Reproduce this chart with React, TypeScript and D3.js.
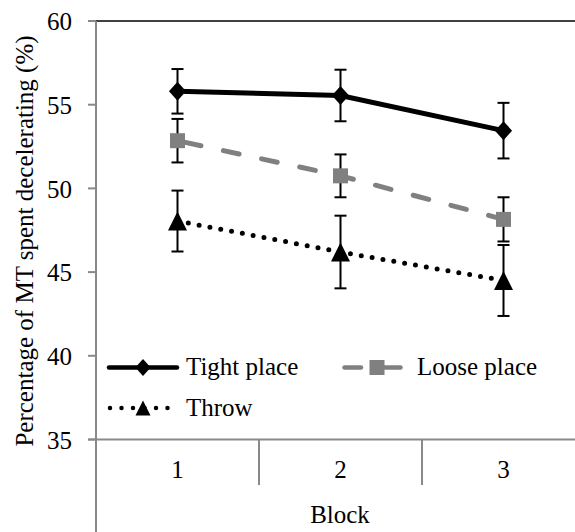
import React from "react";
import * as d3 from "d3";

const blocks = ["1", "2", "3"];
const tightPlace = [55.8, 55.55, 53.45];
const tightErr = [1.33, 1.54, 1.66];
const loosePlace = [52.85, 50.75, 48.15];
const looseErr = [1.3, 1.28, 1.32];
const throwVals = [48.05, 46.2, 44.5];
const throwErr = [1.82, 2.17, 2.12];
const yTicks = [35, 40, 45, 50, 55, 60];

const W = 575;
const H = 532;
const FONT = "Liberation Serif, Tinos, Times New Roman, serif";
const AXIS = "#898989";

export default function App() {
  const x = d3.scaleBand<string>().domain(blocks).range([96, 585]);
  const y = d3.scaleLinear().domain([35, 60]).range([439.5, 21]);
  const cx = (b: string) => (x(b) as number) + x.bandwidth() / 2;

  const line = d3
    .line<number>()
    .x((_, i) => cx(blocks[i]))
    .y((v) => y(v));

  const diamond = (px: number, py: number, r: number) =>
    `M${px},${py - r}L${px + r * 0.9},${py}L${px},${py + r}L${px - r * 0.9},${py}Z`;
  const triangle = (px: number, py: number, s: number) =>
    `M${px},${py - s / 2}L${px + s / 2},${py + s / 2}L${px - s / 2},${py + s / 2}Z`;

  const errBars = (vals: number[], errs: number[]) =>
    vals.map((v, i) => {
      const px = cx(blocks[i]);
      const t = y(v + errs[i]);
      const b = y(v - errs[i]);
      return (
        <g key={i} stroke="#000" strokeWidth={2}>
          <line x1={px} x2={px} y1={t} y2={b} />
          <line x1={px - 6} x2={px + 6} y1={t} y2={t} />
          <line x1={px - 6} x2={px + 6} y1={b} y2={b} />
        </g>
      );
    });

  const txt = { fontFamily: FONT, fontSize: 25 } as React.CSSProperties;

  return (
    <svg width={W} height={H} style={{ position: "absolute", left: 0, top: 0, fontFamily: FONT }}>
      <rect width={W} height={H} fill="#fff" />
      {/* top border */}
      <line x1={96} x2={W} y1={y(60)} y2={y(60)} stroke="#000" strokeWidth={1.5} />
      {/* y axis */}
      <line x1={96} x2={96} y1={y(60)} y2={H} stroke={AXIS} strokeWidth={2} />
      {yTicks.map((t) => (
        <g key={t}>
          <line x1={88} x2={96} y1={y(t)} y2={y(t)} stroke={AXIS} strokeWidth={2} />
          <text x={72} y={y(t)} dy="0.37em" textAnchor="end" style={txt}>
            {t}
          </text>
        </g>
      ))}
      {/* x axis */}
      <line x1={88} x2={W} y1={y(35)} y2={y(35)} stroke={AXIS} strokeWidth={2} />
      {blocks.slice(1).map((b) => (
        <line
          key={b}
          x1={x(b) as number}
          x2={x(b) as number}
          y1={y(35)}
          y2={485}
          stroke={AXIS}
          strokeWidth={2}
        />
      ))}
      {blocks.map((b) => (
        <text key={b} x={cx(b)} y={478} textAnchor="middle" style={txt}>
          {b}
        </text>
      ))}
      <text x={340} y={523} textAnchor="middle" style={txt}>
        Block
      </text>
      <text transform={`translate(33,241) rotate(-90)`} textAnchor="middle" style={txt}>
        Percentage of MT spent decelerating (%)
      </text>

      {/* series lines */}
      <path d={line(tightPlace) as string} fill="none" stroke="#000" strokeWidth={5} />
      <path
        d={line(loosePlace) as string}
        fill="none"
        stroke="#808080"
        strokeWidth={5}
        strokeDasharray="16 23"
        strokeDashoffset={-8}
        strokeLinecap="round"
      />
      <path
        d={line(throwVals) as string}
        fill="none"
        stroke="#000"
        strokeWidth={5}
        strokeDasharray="0 11"
        strokeDashoffset={-11}
        strokeLinecap="round"
      />

      {errBars(tightPlace, tightErr)}
      {errBars(loosePlace, looseErr)}
      {errBars(throwVals, throwErr)}

      {tightPlace.map((v, i) => (
        <path key={i} d={diamond(cx(blocks[i]), y(v), 9.5)} fill="#000" />
      ))}
      {loosePlace.map((v, i) => (
        <rect key={i} x={cx(blocks[i]) - 7.5} y={y(v) - 7.5} width={15} height={15} fill="#808080" />
      ))}
      {throwVals.map((v, i) => (
        <path key={i} d={triangle(cx(blocks[i]), y(v), 19)} fill="#000" />
      ))}

      {/* legend */}
      <g>
        <line x1={109} x2={177} y1={367.5} y2={367.5} stroke="#000" strokeWidth={4.5} strokeLinecap="round" />
        <path d={diamond(143, 367.5, 8.5)} fill="#000" />
        <text x={186} y={375} style={txt}>Tight place</text>

        <line x1={344.5} x2={361} y1={367.5} y2={367.5} stroke="#808080" strokeWidth={4.5} strokeLinecap="round" />
        <line x1={380} x2={400.5} y1={367.5} y2={367.5} stroke="#808080" strokeWidth={4.5} strokeLinecap="round" />
        <rect x={369.5} y={360} width={15} height={15} fill="#808080" />
        <text x={417} y={375} style={txt}>Loose place</text>

        <line x1={110} x2={170} y1={408} y2={408} stroke="#000" strokeWidth={4.5} strokeDasharray="0 11.5" strokeLinecap="round" />
        <path d={triangle(143, 408, 15)} fill="#000" />
        <text x={186} y={416} style={txt}>Throw</text>
      </g>
    </svg>
  );
}
